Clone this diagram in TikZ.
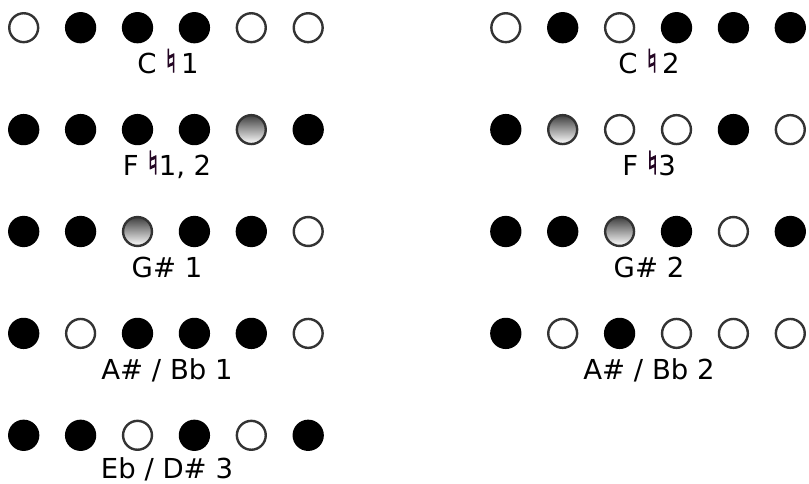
\documentclass[tikz,border=0pt]{standalone}
\usepackage{fontspec}
\setmainfont{DejaVu Sans}
\newfontfamily\natfont[FakeBold=2.5]{DejaVu Sans}
\definecolor{natcol}{RGB}{35,5,35}
\newcommand{\nat}{\raisebox{1pt}{\color{natcol}\natfont\fontsize{32}{36}\selectfont ♮}}
\begin{document}
\begin{tikzpicture}[x=1pt,y=-1pt,
  stO/.style={circle, draw=black!80, line width=2.4pt, fill=white, minimum size=28.9pt, inner sep=0pt},
  stF/.style={circle, fill=black, minimum size=31.3pt, inner sep=0pt},
  stH/.style={circle, draw=black!80, line width=2.4pt, top color=black!75, bottom color=white, minimum size=28.9pt, inner sep=0pt},
  lbl/.style={anchor=base, inner sep=0pt, font=\fontsize{27.5}{30}\selectfont}]
\useasboundingbox (0,0) rectangle (809,484);
% left column
\foreach \row/\pat in {1/{O,F,F,F,O,O},2/{F,F,F,F,H,F},3/{F,F,H,F,F,O},4/{F,O,F,F,F,O},5/{F,F,O,F,O,F}}{
  \foreach \s [count=\i] in \pat {
    \node[st\s] (L\row-\i) at ({23.7+56.9*(\i-1)}, {27.7+101.9*(\row-1)}) {};
  }
}
% right column
\foreach \row/\pat in {1/{O,F,O,F,F,F},2/{F,H,O,O,F,O},3/{F,F,H,F,O,F},4/{F,O,F,O,O,O}}{
  \foreach \s [count=\i] in \pat {
    \node[st\s] (R\row-\i) at ({505.8+56.9*(\i-1)}, {27.7+101.9*(\row-1)}) {};
  }
}
\node[lbl] (tL1) at (168,73.3) {C \nat\,1};
\node[lbl] (tL2) at (167,175.2) {F \nat1, 2};
\node[lbl] (tL3) at (167,277.1) {G\# 1};
\node[lbl] (tL4) at (167,379) {A\# / Bb 1};
\node[lbl] (tL5) at (167,478.5) {Eb / D\# 3};
\node[lbl] (tR1) at (649,73.3) {C \nat\,2};
\node[lbl] (tR2) at (649,175.2) {F \nat3};
\node[lbl] (tR3) at (649,277.1) {G\# 2};
\node[lbl] (tR4) at (649,379) {A\# / Bb 2};
\end{tikzpicture}
\end{document}
